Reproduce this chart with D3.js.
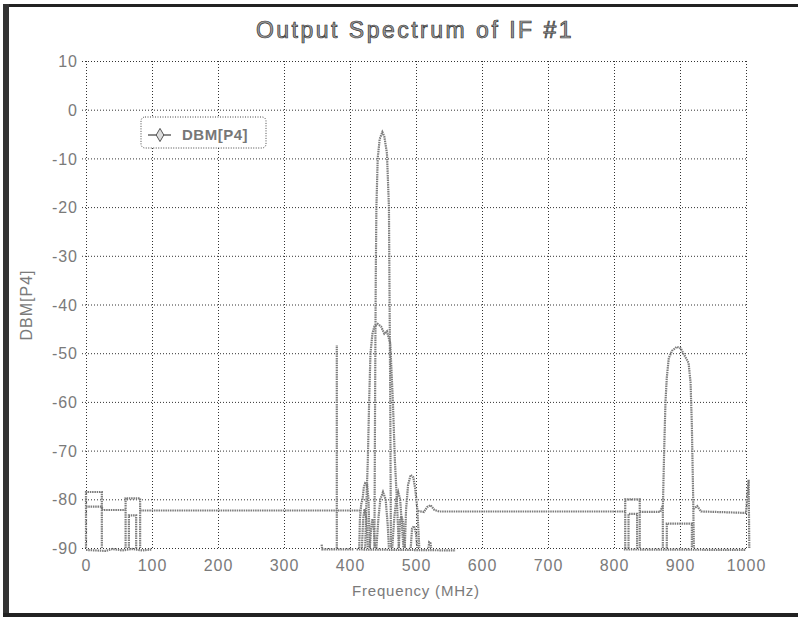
<!DOCTYPE html>
<html>
<head>
<meta charset="utf-8">
<script src="https://cdn.jsdelivr.net/npm/d3@7"></script>
<style>
  body { margin: 0; background: #fff; }
  svg { display: block; font-family: "Liberation Sans", Arial, sans-serif; }
</style>
</head>
<body>
<div class="canvas"></div>
<script>
// axis ticks
const freqTicks = [0, 100, 200, 300, 400, 500, 600, 700, 800, 900, 1000];
const dbmTicks = [10, 0, -10, -20, -30, -40, -50, -60, -70, -80, -90];

// traces, [MHz, dBm]
const box0 = [[0, -90], [0, -78.5], [24, -78.5], [24, -90]];
const box60 = [[60, -90], [60, -79.8], [82, -79.8], [82, -90]];
const box60In = [[65, -90], [65, -83.3], [76, -83.3], [76, -90]];
const floorA = [[0, -81.5], [24, -81.5], [25, -82.2], [60, -82.2]];
const floorB = [[82, -82.3], [417, -82.3]];
const floorC = [[503, -82.4], [512, -82.6], [517, -81.6], [522, -81.2], [528, -82.2], [535, -82.5], [817, -82.5]];
const floorD = [[839, -82.6], [870, -82.6], [874, -81.2]];
const floorE = [[920, -82], [926, -81.4], [932, -82.5], [1000, -82.8], [1004, -76], [1005, -90]];
const spike380 = [[380, -90], [380, -48.3]];
const box820 = [[817, -90], [817, -80], [839, -80], [839, -90]];
const box820In = [[822, -90], [822, -83], [835, -83], [835, -90]];

const peakNarrow = [[437, -90], [438, -60], [439, -35], [440, -20], [442, -10], [445, -6], [449, -4.6],
  [452, -5.5], [456, -9], [459, -20], [460, -40], [461, -60], [462, -90]];
const peakBroad = [[423, -90], [425, -80], [427, -72], [429, -60], [431, -50], [434, -46],
  [437, -44.5], [442, -44], [447, -44.5], [452, -46], [456, -45.5], [461, -48],
  [465, -60], [468, -72], [471, -80], [474, -90]];
const lobeA = [[414, -90], [415, -84], [417, -81], [419, -80], [421, -77.5], [423, -76.7], [426, -77], [428, -80], [430, -90]];
const lobeB = [[440, -90], [443, -84], [446, -80], [450, -78.5], [454, -80], [457, -85], [459, -90]];
const lobeC = [[464, -90], [467, -84], [470, -80], [473, -78.5], [476, -80], [479, -86], [481, -90]];
const lobeD = [[483, -90], [485, -82], [488, -77], [492, -75], [496, -75.5], [499, -78], [502, -82], [505, -90]];
const lobeE = [[474, -90], [476, -84], [478, -83.5], [481, -85], [483, -90]];
const lobeF = [[492, -90], [494, -86], [497, -85.5], [500, -87], [502, -90]];
const lobeG = [[519, -90], [520, -88.8], [522, -89], [523, -90]];
const lobeH = [[418, -90], [420, -84], [422, -82], [425, -84], [427, -90]];
const lobeI = [[430, -90], [432, -86], [434, -84], [436, -86], [438, -90]];

const peak900 = [[874, -90], [874, -82], [876, -70], [878, -60], [880, -55], [883, -51], [888, -49.5],
  [895, -48.7], [901, -49], [907, -50.5], [913, -52], [916, -56], [918, -65], [920, -80], [921, -90]];
const box900In = [[880, -90], [880, -85], [918, -85], [918, -90]];

const bottomA = [[0, -90.4], [30, -90.6], [40, -90.2], [55, -90.5], [70, -90.2], [85, -90.5], [100, -90.3]];
const bottomB = [[357, -89.3], [358, -90.3], [405, -90.3]];
const bottomC = [[410, -90.3], [560, -90.5]];
const bottomD = [[815, -90.3], [1000, -90.4]];

const traces = [box0, box60, box60In, floorA, floorB, floorC, floorD, floorE, spike380,
  box820, box820In, peakNarrow, peakBroad, lobeA, lobeB, lobeC, lobeD, lobeE, lobeF, lobeG,
  lobeH, lobeI, peak900, box900In, bottomA, bottomB, bottomC, bottomD];

const width = 798, height = 621;
const margin = { top: 61, right: 52, bottom: 73, left: 86 };
const plotW = width - margin.left - margin.right;
const plotH = height - margin.top - margin.bottom;

const svg = d3.select('.canvas')
  .append('svg')
  .attr('width', width)
  .attr('height', height);

// scanned page edges
svg.append('rect').attr('x', 3).attr('y', 4).attr('width', 795).attr('height', 3)
  .attr('fill', '#222');
svg.append('rect').attr('x', 3).attr('y', 4).attr('width', 6).attr('height', 613)
  .attr('fill', '#333');
svg.append('rect').attr('x', 3).attr('y', 613).attr('width', 795).attr('height', 4)
  .attr('fill', '#222');

const x = d3.scaleLinear().domain([0, 1000]).range([0, plotW]);
const y = d3.scaleLinear().domain([-90, 10]).range([plotH, 0]);

const graph = svg.append('g')
  .attr('transform', `translate(${margin.left}, ${margin.top})`);

// axes with gridlines
const yAxisGroup = graph.append('g')
  .call(d3.axisLeft(y).tickValues(dbmTicks).tickFormat(d => String(d))
    .tickSizeInner(-plotW).tickSizeOuter(0).tickPadding(8));
const xAxisGroup = graph.append('g')
  .attr('transform', `translate(0, ${plotH})`)
  .call(d3.axisBottom(x).tickValues(freqTicks).tickFormat(d => String(d))
    .tickSizeInner(-plotH).tickSizeOuter(0).tickPadding(12));

[yAxisGroup, xAxisGroup].forEach(g => {
  g.select('.domain').remove();
  g.selectAll('.tick line')
    .attr('stroke', '#333')
    .attr('stroke-width', 1)
    .attr('stroke-dasharray', '1,2');
  g.selectAll('.tick text')
    .attr('fill', '#7a7a7a')
    .attr('font-size', 16)
    .attr('letter-spacing', 1)
    .attr('font-family', '"Liberation Sans", Arial, sans-serif');
});
yAxisGroup.selectAll('.tick line').attr('x1', -4);
yAxisGroup.selectAll('.tick text').attr('dy', '0.35em');

// traces
const line = d3.line()
  .x(d => x(d[0]))
  .y(d => y(d[1]));

graph.selectAll('path.trace')
  .data(traces)
  .enter()
  .append('path')
    .attr('class', 'trace')
    .attr('d', line)
    .attr('fill', 'none')
    .attr('stroke', '#7c7c7c')
    .attr('stroke-width', 2.2)
    .attr('stroke-dasharray', '1.5,0.8');

// title and axis labels
svg.append('text')
  .attr('x', 415).attr('y', 38)
  .attr('text-anchor', 'middle')
  .attr('font-size', 23)
  .attr('letter-spacing', 2.5)
  .attr('fill', '#a0a0a0')
  .attr('stroke', '#333')
  .attr('stroke-width', 0.7)
  .text('Output Spectrum of IF #1');

svg.append('text')
  .attr('x', 416).attr('y', 596)
  .attr('text-anchor', 'middle')
  .attr('font-size', 15)
  .attr('letter-spacing', 0.8)
  .attr('fill', '#7a7a7a')
  .text('Frequency (MHz)');

svg.append('text')
  .attr('transform', 'translate(32, 305) rotate(-90)')
  .attr('text-anchor', 'middle')
  .attr('font-size', 16)
  .attr('letter-spacing', 1)
  .attr('fill', '#7a7a7a')
  .text('DBM[P4]');

// legend
const legend = svg.append('g').attr('transform', 'translate(141, 117)');
legend.append('rect')
  .attr('width', 125).attr('height', 31)
  .attr('rx', 4)
  .attr('fill', '#fff')
  .attr('stroke', '#444')
  .attr('stroke-dasharray', '1,1.5');
legend.append('line')
  .attr('x1', 7).attr('x2', 30).attr('y1', 18).attr('y2', 18)
  .attr('stroke', '#6e6e6e').attr('stroke-width', 1.6);
legend.append('path')
  .attr('d', d3.symbol(d3.symbolDiamond, 50))
  .attr('transform', 'translate(19, 18)')
  .attr('fill', '#ddd')
  .attr('stroke', '#555');
legend.append('text')
  .attr('x', 41).attr('y', 23)
  .attr('font-size', 15)
  .attr('font-weight', 'bold')
  .attr('letter-spacing', 0.5)
  .attr('fill', '#777')
  .text('DBM[P4]');
</script>
</body>
</html>
